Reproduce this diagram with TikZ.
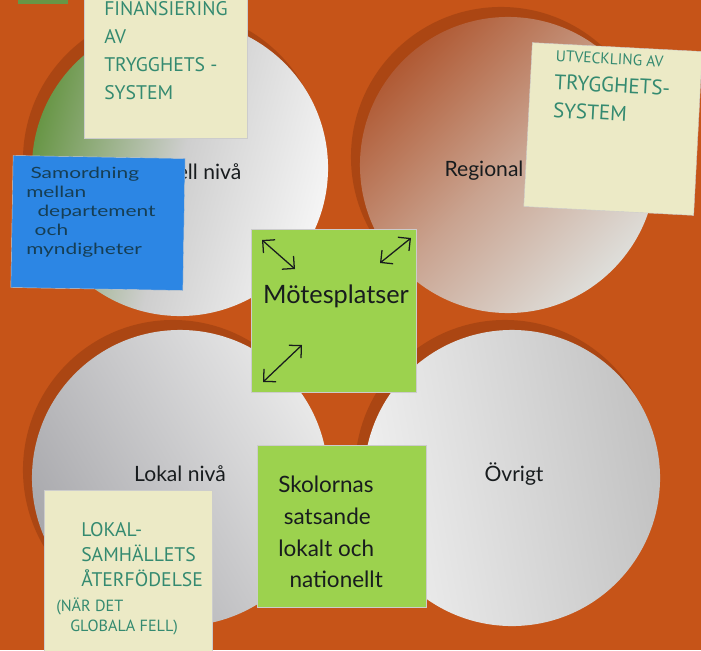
\documentclass[tikz,border=0pt]{standalone}
\usepackage{fontspec}
\setmainfont{Lato}
\newfontfamily\handfont{PT Sans}
\newfontfamily\wideFont[FakeStretch=1.35]{Lato}
\usetikzlibrary{arrows.meta,positioning}
\definecolor{mporange}{RGB}{198,84,24}
\definecolor{mpshadow}{RGB}{110,40,8}
\definecolor{mpyellow}{RGB}{236,234,198}
\definecolor{mpblue}{RGB}{44,134,228}
\definecolor{mplime}{RGB}{156,210,78}
\definecolor{mpteal}{RGB}{52,138,112}
\definecolor{mpink}{RGB}{24,28,30}
\definecolor{mpnavy}{RGB}{22,62,84}
\definecolor{mpmoss}{RGB}{104,150,70}
\definecolor{mprust}{RGB}{176,90,52}
\definecolor{mpsilver}{RGB}{222,222,218}
\definecolor{mpsteel}{RGB}{168,168,172}
\tikzset{
  mpDisc/.style={circle, minimum size=7.4cm, inner sep=0pt},
  mpShade/.style={circle, minimum size=7.5cm, inner sep=0pt, fill=mpshadow,
                  opacity=0.3},
  mpLabel/.style={font=\fontsize{15}{17}\selectfont, text=mpink},
  mpNote/.style={inner sep=0pt, draw=black!20, line width=0.3pt},
  mpHand/.style={inner sep=0pt, align=left, anchor=north west},
  mpArrow/.style={{Straight Barb[length=2.2mm]}-{Straight Barb[length=2.2mm]},
                  line width=0.9pt, draw=mpink}
}
\begin{document}
\begin{tikzpicture}[x=0.025cm, y=-0.025cm]
  \fill[mporange] (0,0) rectangle (701,650);
  \useasboundingbox (0,0) rectangle (701,650);
  \clip (0,0) rectangle (701,650);
  \fill[mpmoss] (18,0) rectangle (68,4);

  \node[mpShade] (natShadow) at (173,160) {};
  \node[mpShade] (regShadow) at (501,157) {};
  \node[mpShade] (lokShadow) at (173,470) {};
  \node[mpShade] (ovrShadow) at (505,470) {};

  \node[mpDisc, left color=mpmoss, right color=white!92!gray,
        middle color=gray!38, shading angle=75] (natDisc) at (180,168) {};
  \node[mpDisc, left color=mprust, right color=mpsilver,
        middle color=mprust!45!mpsilver, shading angle=45] (regDisc) at (508,165) {};
  \node[mpDisc, left color=mpsteel, right color=gray!18,
        shading angle=120] (lokDisc) at (180,478) {};
  \node[mpDisc, left color=gray!12, right color=gray!48,
        shading angle=100] (ovrDisc) at (512,478) {};

  \node[mpLabel] (natLabel) at (209,172) {ell nivå};
  \node[mpLabel] (regLabel) at (484,171) {Regional};
  \node[mpLabel] (lokLabel) at (180,474) {Lokal nivå};
  \node[mpLabel] (ovrLabel) at (514,474) {Övrigt};

  \node[mpNote, fill=mpyellow, minimum width=4.08cm, minimum height=4.1cm]
       (finNote) at (166,56) {};
  \node[mpHand, text=mpteal, font=\handfont\fontsize{14}{20}\selectfont]
       (finText) at (104,1) {FINANSIERING\\AV\\TRYGGHETS -\\SYSTEM};

  \node[mpNote, fill=mpyellow, minimum width=4.25cm, minimum height=4.1cm,
        rotate=-3] (utvNote) at (613,129) {};
  \node[mpHand, text=mpteal, rotate=-3, font=\handfont\fontsize{15}{20}\selectfont]
       (utvText) at (556,50) {{\fontsize{11}{12}\selectfont UTVECKLING AV}\\TRYGGHETS-\\SYSTEM};

  \node[mpNote, fill=mpblue, minimum width=4.3cm, minimum height=3.3cm,
        rotate=-1] (samNote) at (98,223) {};
  \node[mpHand, text=mpnavy, font=\wideFont\fontsize{11}{13.5}\selectfont]
       (samText) at (26,167) {\hspace{3pt}Samordning\\mellan\\\hspace{8pt}departement\\\hspace{6pt}och\\myndigheter};

  \node[mpNote, fill=mplime, minimum width=4.12cm, minimum height=4.08cm]
       (motNote) at (334,311) {};
  \node[font=\fontsize{18}{20}\selectfont, text=mpink] (motText) at (336,296) {Mötesplatser};
  \coordinate (tlA) at (262,240);
  \coordinate (tlB) at (295,269);
  \coordinate (trA) at (380,263);
  \coordinate (trB) at (411,238);
  \coordinate (blA) at (263,382);
  \coordinate (blB) at (302,345);
  \draw[mpArrow] (tlA) -- (tlB);
  \draw[mpArrow] (trA) -- (trB);
  \draw[mpArrow] (blA) -- (blB);

  \node[mpNote, fill=mpyellow, minimum width=4.2cm, minimum height=4.3cm]
       (lokNote) at (128,576) {};
  \node[mpHand, text=mpteal, font=\handfont\fontsize{14}{18}\selectfont]
       (lokText) at (81,522) {LOKAL-\\SAMHÄLLETS\\ÅTERFÖDELSE};
  \node[mpHand, text=mpteal, font=\handfont\fontsize{11.5}{14}\selectfont]
       (lokNote2) at (56,598) {(NÄR DET\\\hspace{10pt}GLOBALA FELL)};

  \node[mpNote, fill=mplime, minimum width=4.22cm, minimum height=4.05cm]
       (skoNote) at (342,526) {};
  \node[mpHand, text=mpink, font=\fontsize{16}{22.5}\selectfont]
       (skoText) at (278,476) {Skolornas\\\hspace{4pt}satsande\\lokalt och\\\hspace{8pt}nationellt};
\end{tikzpicture}
\end{document}
